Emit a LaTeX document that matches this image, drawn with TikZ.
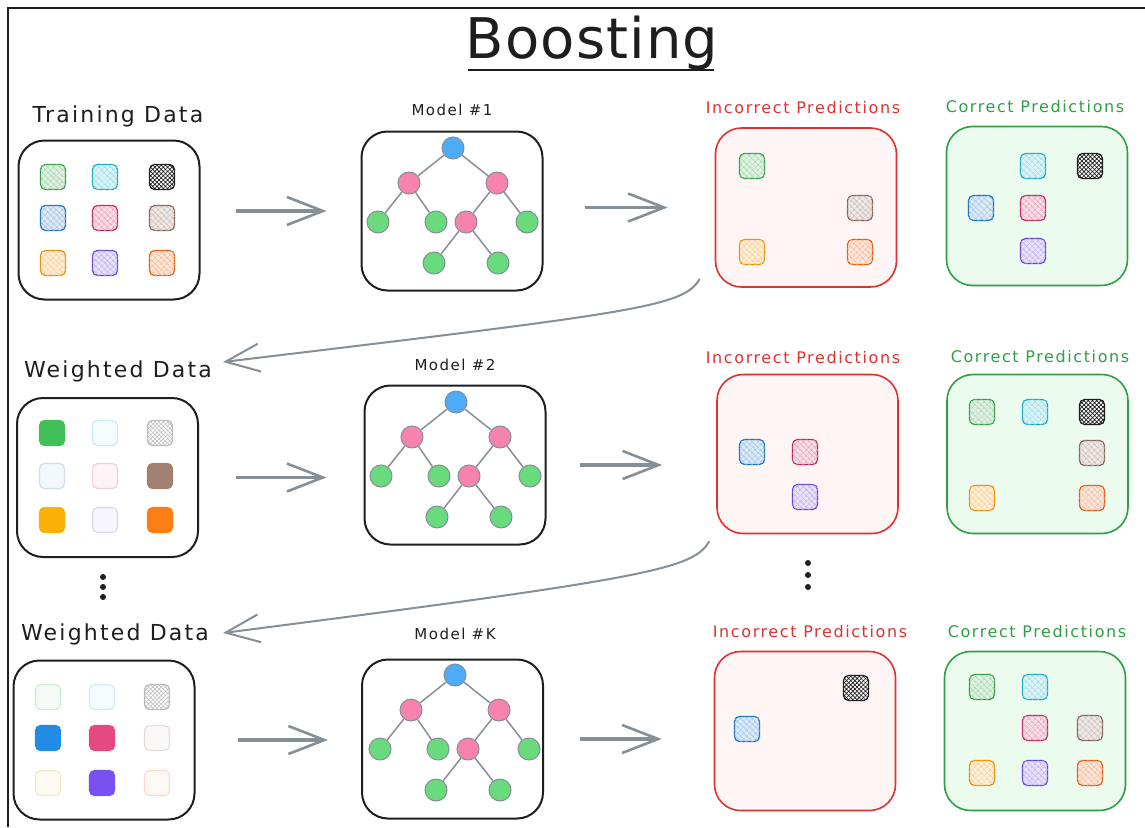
\documentclass[tikz,border=0pt]{standalone}
\usepackage{fontspec}
\newfontfamily\sketch{DejaVu Sans}[LetterSpace=10]
\newfontfamily\sketchtight{DejaVu Sans}[LetterSpace=2]
\usetikzlibrary{arrows.meta,positioning,patterns.meta}

\definecolor{ink}{HTML}{1E1E1E}
\definecolor{wire}{HTML}{868E96}
\definecolor{skgreen}{HTML}{2F9E44}
\definecolor{skcyan}{HTML}{15AABF}
\definecolor{skblue}{HTML}{1971C2}
\definecolor{skpink}{HTML}{C2255C}
\definecolor{skbrown}{HTML}{846358}
\definecolor{skyellow}{HTML}{F08C00}
\definecolor{skviolet}{HTML}{6741D9}
\definecolor{skorange}{HTML}{E8590C}
\definecolor{fullgreen}{HTML}{40C057}
\definecolor{fullbrown}{HTML}{A18072}
\definecolor{fullyellow}{HTML}{FAB005}
\definecolor{fullorange}{HTML}{FD7E14}
\definecolor{fullblue}{HTML}{228BE6}
\definecolor{fullpink}{HTML}{E64980}
\definecolor{fullviolet}{HTML}{7950F2}
\definecolor{badred}{HTML}{E03131}
\definecolor{badfill}{HTML}{FFF5F5}
\definecolor{goodgreen}{HTML}{2F9E44}
\definecolor{goodfill}{HTML}{EBFBEE}
\definecolor{rootblue}{HTML}{4DABF7}
\definecolor{splitpink}{HTML}{F783AC}
\definecolor{leafgreen}{HTML}{69DB7C}

\tikzstyle{panel} = [rectangle, draw=ink, line width=2pt, rounded corners=26pt,
    minimum width=181pt, minimum height=159pt]
\tikzstyle{miss} = [panel, draw=badred, fill=badfill, line width=1.6pt]
\tikzstyle{hit} = [panel, draw=goodgreen, fill=goodfill, line width=1.6pt]
\tikzstyle{headline} = [font=\sketchtight\fontsize{56}{64}\selectfont, text=ink, inner sep=0pt]
\tikzstyle{heading} = [font=\sketch\fontsize{22}{26}\selectfont, text=ink, inner sep=0pt]
\tikzstyle{caption} = [font=\sketch\fontsize{15}{18}\selectfont, text=ink, inner sep=0pt]
\tikzstyle{tag} = [font=\sketch\fontsize{16}{19}\selectfont, inner sep=0pt]
\tikzstyle{knot} = [circle, draw=wire, line width=1pt, minimum size=22pt, inner sep=0pt]
\tikzstyle{root} = [knot, fill=rootblue]
\tikzstyle{split} = [knot, fill=splitpink]
\tikzstyle{leaf} = [knot, fill=leafgreen]
\tikzstyle{twig} = [draw=wire, line width=1.5pt]
\tikzstyle{flow} = [draw=wire, line width=3.5pt, -{Straight Barb[length=36pt, width=28pt, line width=2.6pt]}]
\tikzstyle{loopback} = [draw=wire, line width=2pt, -{Straight Barb[length=34pt, width=28pt]}]
\tikzstyle{dot} = [circle, fill=ink, minimum size=6pt, inner sep=0pt]
\tikzset{
  box/.style={rectangle, rounded corners=5pt, minimum size=25pt, inner sep=0pt, line width=1.2pt},
  chip/.style={box, draw=#1, fill=#1!15,
    postaction={pattern={Hatch[angle=45,distance=4pt,line width=.5pt]}, pattern color=#1!40}},
  inkchip/.style={box, draw=ink, fill=white,
    postaction={pattern={Hatch[angle=45,distance=3pt,line width=.7pt]}, pattern color=ink}},
  paledchip/.style={box, draw=#1!22, fill=#1!5},
  paleink/.style={box, draw=ink!30, fill=white,
    postaction={pattern={Hatch[angle=45,distance=3pt,line width=.5pt]}, pattern color=ink!30}},
  solidchip/.style={box, draw=#1, fill=#1},
}

\begin{document}
\begin{tikzpicture}[x=1pt, y=-1pt, on grid]
    \useasboundingbox (0,0) rectangle (1145,827);
    \draw [ink, line width=2pt] (1145,8) -- (8,8) -- (8,827);

    % Place nodes
    \node [headline, anchor=base] (title) at (592,58) {Boosting};
    \path [draw=ink, line width=2.2pt] ([xshift=2pt, yshift=-12pt]title.base west) -- ([xshift=-4pt, yshift=-12pt]title.base east);

    \node [heading, anchor=base] (tlab) at (118,122) {Training Data};
    \node [caption, anchor=base] (mlab1) at (452,115) {Model \#1};
    \node [tag, text=badred, anchor=base] (ilab1) at (803,113) {Incorrect Predictions};
    \node [tag, text=goodgreen, anchor=base] (clab1) at (1035,112) {Correct Predictions};
    \node [heading, anchor=base] (wlab1) at (118,377) {Weighted Data};
    \node [caption, anchor=base] (mlab2) at (455,370) {Model \#2};
    \node [tag, text=badred, anchor=base] (ilab2) at (803,363) {Incorrect Predictions};
    \node [tag, text=goodgreen, anchor=base] (clab2) at (1040,362) {Correct Predictions};
    \node [heading, anchor=base] (wlab2) at (115,640) {Weighted Data};
    \node [caption, anchor=base] (mlab3) at (455,639) {Model \#K};
    \node [tag, text=badred, anchor=base] (ilab3) at (810,637) {Incorrect Predictions};
    \node [tag, text=goodgreen, anchor=base] (clab3) at (1037,637) {Correct Predictions};

    \node [panel] (data1) at (109,220) {};
    \node [panel] (model1) at (452,211) {};
    \node [miss] (miss1) at (806,207.5) {};
    \node [hit] (hit1) at (1037,206) {};
    \node [panel] (data2) at (107.5,477.5) {};
    \node [panel] (model2) at (455,465) {};
    \node [miss] (miss2) at (807.5,454) {};
    \node [hit] (hit2) at (1037.5,454) {};
    \node [panel] (data3) at (104,740) {};
    \node [panel] (model3) at (452.5,739) {};
    \node [miss] (miss3) at (805,731) {};
    \node [hit] (hit3) at (1035,731) {};

    % training data
    \node [chip=skgreen] (t1) at (53,177) {};
    \node [chip=skcyan] (t2) at (105,177) {};
    \node [inkchip] (t3) at (162,177) {};
    \node [chip=skblue] (t4) at (53,218) {};
    \node [chip=skpink] (t5) at (105,218) {};
    \node [chip=skbrown] (t6) at (162,218) {};
    \node [chip=skyellow] (t7) at (53,263) {};
    \node [chip=skviolet] (t8) at (105,263) {};
    \node [chip=skorange] (t9) at (162,263) {};

    % weighted data, round 2
    \node [solidchip=fullgreen] (w1) at (52,433) {};
    \node [paledchip=skcyan] (w2) at (105,433) {};
    \node [paleink] (w3) at (160,433) {};
    \node [paledchip=skblue] (w4) at (52,476) {};
    \node [paledchip=skpink] (w5) at (105,476) {};
    \node [solidchip=fullbrown] (w6) at (160,476) {};
    \node [solidchip=fullyellow] (w7) at (52,520) {};
    \node [paledchip=skviolet] (w8) at (105,520) {};
    \node [solidchip=fullorange] (w9) at (160,520) {};

    % weighted data, round K
    \node [paledchip=skgreen] (v1) at (48,697) {};
    \node [paledchip=skcyan] (v2) at (102,697) {};
    \node [paleink] (v3) at (157,697) {};
    \node [solidchip=fullblue] (v4) at (48,738) {};
    \node [solidchip=fullpink] (v5) at (102,738) {};
    \node [paledchip=skbrown] (v6) at (157,738) {};
    \node [paledchip=skyellow] (v7) at (48,783) {};
    \node [solidchip=fullviolet] (v8) at (102,783) {};
    \node [paledchip=skorange] (v9) at (157,783) {};

    % predictions
    \node [chip=skgreen] (m1a) at (752,166) {};
    \node [chip=skbrown] (m1b) at (860,208) {};
    \node [chip=skyellow] (m1c) at (752,252) {};
    \node [chip=skorange] (m1d) at (860,252) {};
    \node [chip=skcyan] (h1a) at (1033,166) {};
    \node [inkchip] (h1b) at (1090,166) {};
    \node [chip=skblue] (h1c) at (981,208) {};
    \node [chip=skpink] (h1d) at (1033,208) {};
    \node [chip=skviolet] (h1e) at (1033,251) {};

    \node [chip=skblue] (m2a) at (752,452) {};
    \node [chip=skpink] (m2b) at (805,452) {};
    \node [chip=skviolet] (m2c) at (805,497) {};
    \node [chip=skgreen] (h2a) at (982,412) {};
    \node [chip=skcyan] (h2b) at (1035,412) {};
    \node [inkchip] (h2c) at (1092,412) {};
    \node [chip=skbrown] (h2d) at (1092,453) {};
    \node [chip=skyellow] (h2e) at (982,498) {};
    \node [chip=skorange] (h2f) at (1092,498) {};

    \node [inkchip] (m3a) at (856,688) {};
    \node [chip=skblue] (m3b) at (747,729) {};
    \node [chip=skgreen] (h3a) at (982,687) {};
    \node [chip=skcyan] (h3b) at (1035,687) {};
    \node [chip=skpink] (h3c) at (1035,728) {};
    \node [chip=skbrown] (h3d) at (1090,728) {};
    \node [chip=skyellow] (h3e) at (982,773) {};
    \node [chip=skviolet] (h3f) at (1035,773) {};
    \node [chip=skorange] (h3g) at (1090,773) {};

    % trees
    \node [root] (r1) at (453,148) {};
    \node [split, below left=35pt and 44pt of r1] (r1a) {};
    \node [split, below right=35pt and 44pt of r1] (r1b) {};
    \node [leaf, below left=39pt and 31pt of r1a] (r1c) {};
    \node [leaf, below right=39pt and 27pt of r1a] (r1d) {};
    \node [split, below left=39pt and 31pt of r1b] (r1e) {};
    \node [leaf, below right=39pt and 30pt of r1b] (r1f) {};
    \node [leaf, below left=41pt and 32pt of r1e] (r1g) {};
    \node [leaf, below right=41pt and 32pt of r1e] (r1h) {};

    \node [root] (r2) at (456,402) {};
    \node [split, below left=35pt and 44pt of r2] (r2a) {};
    \node [split, below right=35pt and 44pt of r2] (r2b) {};
    \node [leaf, below left=39pt and 31pt of r2a] (r2c) {};
    \node [leaf, below right=39pt and 27pt of r2a] (r2d) {};
    \node [split, below left=39pt and 31pt of r2b] (r2e) {};
    \node [leaf, below right=39pt and 30pt of r2b] (r2f) {};
    \node [leaf, below left=41pt and 32pt of r2e] (r2g) {};
    \node [leaf, below right=41pt and 32pt of r2e] (r2h) {};

    \node [root] (r3) at (455,675) {};
    \node [split, below left=35pt and 44pt of r3] (r3a) {};
    \node [split, below right=35pt and 44pt of r3] (r3b) {};
    \node [leaf, below left=39pt and 31pt of r3a] (r3c) {};
    \node [leaf, below right=39pt and 27pt of r3a] (r3d) {};
    \node [split, below left=39pt and 31pt of r3b] (r3e) {};
    \node [leaf, below right=39pt and 30pt of r3b] (r3f) {};
    \node [leaf, below left=41pt and 32pt of r3e] (r3g) {};
    \node [leaf, below right=41pt and 32pt of r3e] (r3h) {};

    \node [dot] (gap1) at (103,577) {};
    \node [dot] (gap2) at (103,587) {};
    \node [dot] (gap3) at (103,597) {};
    \node [dot] (gap4) at (808,563) {};
    \node [dot] (gap5) at (808,575) {};
    \node [dot] (gap6) at (808,587) {};
    \coordinate (back1) at (223,362);
    \coordinate (back2) at (223,633);

    % Draw edges
    \path [twig] (r1) -- (r1a) (r1) -- (r1b) (r1a) -- (r1c) (r1a) -- (r1d) (r1b) -- (r1e) (r1b) -- (r1f) (r1e) -- (r1g) (r1e) -- (r1h);
    \path [twig] (r2) -- (r2a) (r2) -- (r2b) (r2a) -- (r2c) (r2a) -- (r2d) (r2b) -- (r2e) (r2b) -- (r2f) (r2e) -- (r2g) (r2e) -- (r2h);
    \path [twig] (r3) -- (r3a) (r3) -- (r3b) (r3a) -- (r3c) (r3a) -- (r3d) (r3b) -- (r3e) (r3b) -- (r3f) (r3e) -- (r3g) (r3e) -- (r3h);

    \path [flow] ([xshift=35pt]data1.east |- model1.west) -- ([xshift=-34pt]model1.west);
    \path [flow] ([xshift=41pt]model1.east |- miss1.west) -- ([xshift=-47pt]miss1.west);
    \path [flow] ([xshift=37pt]data2.east) -- ([xshift=-37pt]model2.west |- data2.east);
    \path [flow] ([xshift=33pt]model2.east) -- ([xshift=-54pt]miss2.west |- model2.east);
    \path [flow] ([xshift=42pt]data3.east) -- ([xshift=-33pt]model3.west |- data3.east);
    \path [flow] ([xshift=36pt]model3.east) -- ([xshift=-52pt]miss3.west |- model3.east);

    \path [loopback] ([shift={(-15,-9)}]miss1.south west) .. controls +(-16,28) and +(417,-50) .. (back1);
    \path [loopback] ([shift={(-7,7)}]miss2.south west) .. controls +(-16,28) and +(427,-55) .. (back2);

\end{tikzpicture}
\end{document}
